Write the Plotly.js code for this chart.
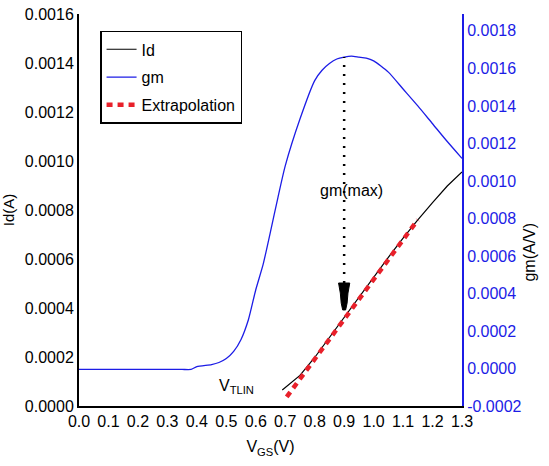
<!DOCTYPE html>
<html>
<head>
<meta charset="utf-8">
<script src="https://cdn.plot.ly/plotly-3.0.1.min.js"></script>
<style>html,body{margin:0;padding:0;background:#fff;}#chart{width:549px;height:466px;}</style>
</head>
<body>
<div id="chart"></div>
<script>
// ---- data ----
const gmV = [0.00, 0.05, 0.10, 0.15, 0.20, 0.25, 0.30, 0.35, 0.38, 0.40, 0.45, 0.475, 0.50, 0.525, 0.55, 0.575, 0.60, 0.625, 0.65, 0.675, 0.70, 0.75, 0.80, 0.825, 0.85, 0.875, 0.90, 0.925, 0.95, 0.975, 1.00, 1.05, 1.10, 1.15, 1.20, 1.25, 1.30];
const gmVal = [-0.000005, -0.000005, -0.000005, -0.000005, -0.000005, -0.000005, -0.000005, -0.000005, -0.000005, 0.000010, 0.000021, 0.000032, 0.000053, 0.000091, 0.000155, 0.000260, 0.000420, 0.000555, 0.000730, 0.000910, 0.001080, 0.001330, 0.001535, 0.001590, 0.001626, 0.001650, 0.001660, 0.001665, 0.001660, 0.001655, 0.001640, 0.001580, 0.001490, 0.001400, 0.001305, 0.001210, 0.001120];

const idV = [0.69, 0.75, 0.80, 0.85, 0.90, 0.95, 1.00, 1.05, 1.10, 1.15, 1.20, 1.25, 1.30];
const idVal = [0.000065, 0.000125, 0.000198, 0.000280, 0.000362, 0.000445, 0.000527, 0.000607, 0.000685, 0.000760, 0.000830, 0.000898, 0.000955];

const exV = [0.705, 1.15];
const exVal = [0.000037, 0.000760];

const xTicks = [0.0, 0.1, 0.2, 0.3, 0.4, 0.5, 0.6, 0.7, 0.8, 0.9, 1.0, 1.1, 1.2, 1.3];
const xTickText = ['0.0','0.1','0.2','0.3','0.4','0.5','0.6','0.7','0.8','0.9','1.0','1.1','1.2','1.3'];
const yTicks = [0, 0.0002, 0.0004, 0.0006, 0.0008, 0.0010, 0.0012, 0.0014, 0.0016];
const yTickText = ['0.0000','0.0002','0.0004','0.0006','0.0008','0.0010','0.0012','0.0014','0.0016'];
const y2Ticks = [-0.0002, 0, 0.0002, 0.0004, 0.0006, 0.0008, 0.0010, 0.0012, 0.0014, 0.0016, 0.0018];
const y2TickText = ['-0.0002','0.0000','0.0002','0.0004','0.0006','0.0008','0.0010','0.0012','0.0014','0.0016','0.0018'];

// gm(max) guide: located at the gm peak, Id-axis levels of the dotted guide and arrow
const gmMaxIdx = gmVal.indexOf(Math.max(...gmVal));
const gmMaxV = 0.90;
const guideTopId = 0.001424;
const arrowTopId = 0.000502;
const arrowMidId = 0.000461;
const arrowLowId = 0.000420;
const arrowTipId = 0.000392;

const FONT = 'Liberation Sans, Arial, sans-serif';
const BLUE = '#1c1ce6';

const traces = [
  {x: idV, y: idVal, name: 'Id', type: 'scatter', mode: 'lines', legendgroup: 'a',
   line: {color: '#000000', width: 1.2}, yaxis: 'y'},
  {x: gmV, y: gmVal, name: 'gm', type: 'scatter', mode: 'lines', legendgroup: 'b',
   line: {color: BLUE, width: 1.3, shape: 'spline', smoothing: 0.6}, yaxis: 'y2'},
  {x: exV, y: exVal, name: 'Extrapolation', type: 'scatter', mode: 'lines', legendgroup: 'c',
   line: {color: '#e8202a', width: 4.5, dash: '6px,5px'}, yaxis: 'y'}
];

const a = gmMaxV;
const layout = {
  width: 549, height: 466,
  margin: {l: 79, r: 87, t: 14, b: 60, pad: 0},
  paper_bgcolor: '#ffffff', plot_bgcolor: '#ffffff',
  font: {family: FONT, size: 16, color: '#000000'},
  showlegend: true,
  legend: {x: 0.055, y: 0.957, xanchor: 'left', yanchor: 'top',
           bgcolor: '#ffffff', bordercolor: '#000000', borderwidth: 1.5,
           font: {family: FONT, size: 16, color: '#000000'},
           itemwidth: 30, tracegroupgap: 4, traceorder: 'grouped'},
  xaxis: {range: [0, 1.3], tickvals: xTicks, ticktext: xTickText, ticks: '',
          showgrid: false, zeroline: false, showline: true, linecolor: '#000000', linewidth: 2,
          tickfont: {family: FONT, size: 16, color: '#000000'},
          title: {text: 'V<sub>GS</sub>(V)', font: {family: FONT, size: 16, color: '#000000'}, standoff: 12}},
  yaxis: {range: [0, 0.0016], tickvals: yTicks, ticktext: yTickText, ticks: '',
          showgrid: false, zeroline: false, showline: true, linecolor: '#000000', linewidth: 2,
          tickfont: {family: FONT, size: 16, color: '#000000'},
          title: {text: 'Id(A)', font: {family: FONT, size: 15, color: '#000000'}, standoff: 8}},
  yaxis2: {range: [-0.0002, 0.00189], overlaying: 'y', side: 'right', anchor: 'x',
           tickvals: y2Ticks, ticktext: y2TickText, ticks: '',
           showgrid: false, zeroline: false, showline: true, linecolor: BLUE, linewidth: 2,
           tickfont: {family: FONT, size: 16, color: BLUE}},
  shapes: [
    {type: 'line', xref: 'x', yref: 'y', x0: a, x1: a, y0: arrowTopId, y1: guideTopId,
     line: {color: '#000000', width: 2.5, dash: '2px,7px'}},
    {type: 'path', xref: 'x', yref: 'y',
     path: `M ${a-0.019},${arrowTopId} L ${a+0.019},${arrowTopId} L ${a+0.013},${arrowMidId} L ${a+0.01},${arrowLowId} L ${a+0.005},${arrowTipId} L ${a-0.005},${arrowTipId} L ${a-0.01},${arrowLowId} L ${a-0.013},${arrowMidId} Z`,
     fillcolor: '#000000', line: {color: '#000000', width: 1}}
  ],
  annotations: [
    {text: 'gm(max)', x: 0.925, y: 0.00088, xref: 'x', yref: 'y', showarrow: false,
     font: {family: FONT, size: 16, color: '#000000'}},
    {text: 'V<sub>TLIN</sub>', x: 0.535, y: 0.000078, xref: 'x', yref: 'y', showarrow: false,
     font: {family: FONT, size: 16, color: '#000000'}},
    {text: 'gm(A/V)', x: 1.204, y: 0.393, xref: 'paper', yref: 'paper', showarrow: false,
     textangle: -90, font: {family: FONT, size: 16, color: '#000000'}}
  ]
};

Plotly.newPlot('chart', traces, layout, {displayModeBar: false, staticPlot: true});
</script>
</body>
</html>
